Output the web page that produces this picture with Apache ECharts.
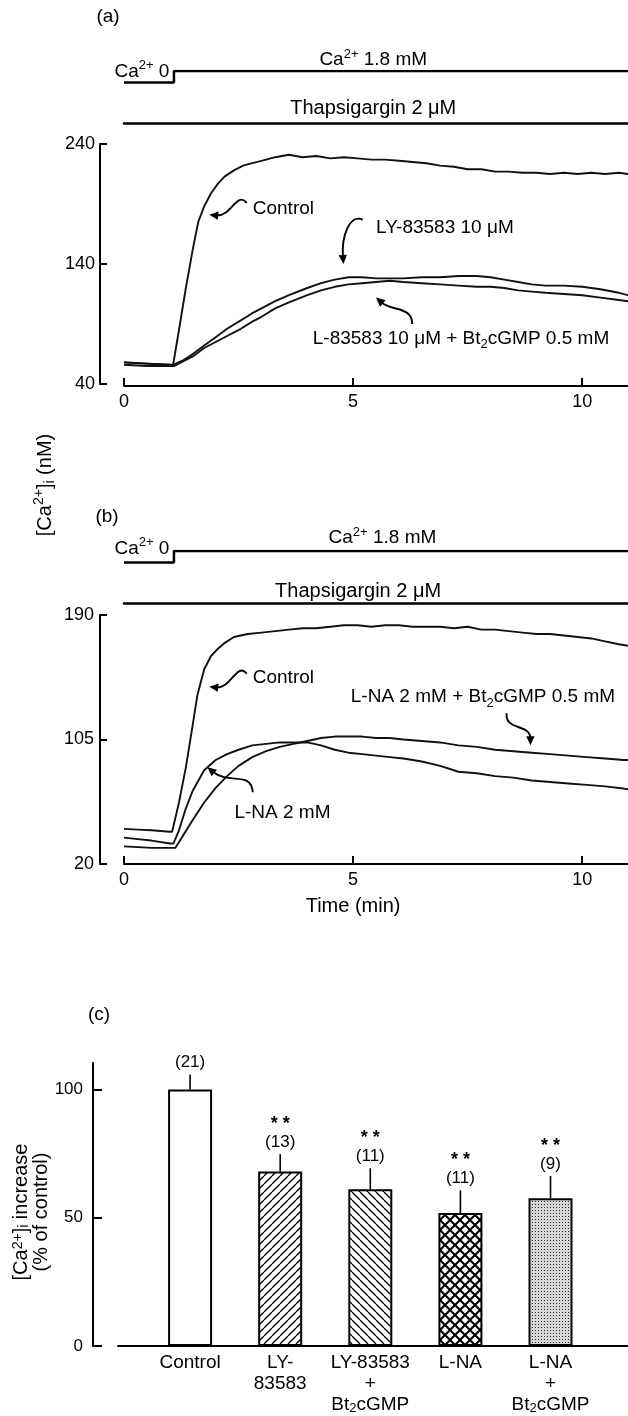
<!DOCTYPE html>
<html><head><meta charset="utf-8">
<script src="https://cdn.jsdelivr.net/npm/echarts@6/dist/echarts.min.js"></script>
<style>html,body{margin:0;padding:0;background:#fff}#c{width:628px;height:1416px}</style>
</head><body><div id="c"></div>
<script>
const FONT = '"Liberation Sans", Arial, Helvetica, sans-serif';

// ---------- data ----------
const timeTicks = [0, 5, 10];
const yTicksA = [40, 140, 240];
const yTicksB = [20, 105, 190];
const yTicksC = [0, 50, 100];
const caStepTime = 1.09;               // min, Ca2+ 0 -> 1.8 mM
const caProtocol = [[0, 0], [caStepTime, 0], [caStepTime, 1.8], [11, 1.8]]; // mM

const aControl = [[0,58],[0.25,57.5],[0.5,57],[0.75,56.5],[1.0,56],[1.07,55.5],[1.2,85],[1.35,120],[1.5,152],[1.62,175],[1.75,188],[1.9,199],[2.05,207],[2.2,213],[2.4,218],[2.6,222],[2.8,224],[3.0,226],[3.3,229],[3.6,231],[3.9,229],[4.2,230],[4.5,228],[4.8,229],[5.1,228],[5.4,227],[5.7,227],[6.0,226],[6.3,225],[6.6,224],[6.9,222],[7.2,221],[7.5,219],[7.8,219],[8.1,217],[8.4,217],[8.7,216],[9.0,216],[9.3,215],[9.6,216],[9.9,215],[10.2,216],[10.5,215],[10.8,216],[11.0,215]];
const aLY = [[0,58],[0.5,57],[1.0,56],[1.07,56],[1.3,60],[1.5,65],[1.75,72],[2.0,79],[2.25,86],[2.55,93],[2.8,99],[3.0,103],[3.3,109],[3.6,114],[4.0,120],[4.3,124],[4.6,127],[4.9,129],[5.2,129],[5.5,128],[5.8,128],[6.1,128],[6.5,129],[6.9,129],[7.3,130],[7.7,130],[8.0,129],[8.3,127],[8.6,125],[8.9,123],[9.2,122],[9.6,122],[10.0,121],[10.4,119],[10.8,116],[11.0,114]];
const aLYBt = [[0,56],[0.5,55],[1.0,55],[1.1,55],[1.3,59],[1.5,63],[1.75,70],[2.0,75],[2.25,80],[2.55,86],[2.8,92],[3.0,96],[3.3,103],[3.6,108],[4.0,114],[4.3,118],[4.6,121],[4.9,123],[5.2,124],[5.5,125],[5.8,126],[6.1,125],[6.5,124],[6.9,123],[7.3,122],[7.7,121],[8.0,121],[8.3,120],[8.6,118],[8.9,117],[9.2,116],[9.6,115],[10.0,114],[10.4,112],[10.8,110],[11.0,109]];

const bControl = [[0,44],[0.3,43.5],[0.6,43],[1.0,42],[1.05,42],[1.2,62],[1.35,86],[1.5,115],[1.6,135],[1.75,153],[1.9,162],[2.05,167],[2.2,171],[2.4,175],[2.7,177],[3.0,178],[3.3,179],[3.6,180],[3.9,181],[4.2,181],[4.5,182],[4.8,183],[5.1,183],[5.4,182],[5.7,183],[6.0,183],[6.3,182],[6.6,182],[6.9,182],[7.2,181],[7.5,182],[7.8,180],[8.1,180],[8.4,179],[8.7,178],[9.0,177],[9.3,177],[9.6,176],[9.9,175],[10.2,174],[10.5,172],[10.8,170],[11.0,169]];
const bLNA = [[0,38],[0.3,37],[0.6,36],[1.0,34],[1.08,34],[1.2,43],[1.35,58],[1.5,70],[1.75,84],[2.0,91],[2.25,95],[2.5,98],[2.8,101],[3.1,102],[3.4,103],[3.7,103],[4.0,103],[4.3,101],[4.6,98],[4.9,96],[5.2,95],[5.5,94],[5.8,93],[6.1,92],[6.5,90],[6.9,87],[7.3,83],[7.7,82],[8.1,80],[8.5,79],[8.9,77],[9.3,76],[9.7,75],[10.1,74],[10.5,73],[10.9,71.5],[11.0,71]];
const bLNABt = [[0,32],[0.3,31.5],[0.6,31],[1.0,31],[1.12,31],[1.3,40],[1.5,50],[1.75,62],[2.0,72],[2.25,80],[2.5,87],[2.8,93],[3.1,97],[3.4,100],[3.7,102],[4.0,104],[4.3,106],[4.6,107],[4.9,107],[5.2,107],[5.5,106],[5.8,106],[6.1,105],[6.5,104],[6.9,103],[7.3,101],[7.7,100],[8.1,98],[8.5,97],[8.9,96],[9.3,95],[9.7,94],[10.1,93],[10.5,92],[10.9,91],[11.0,91]];

const barLabels = ['{t|Control}', '{t|LY-}\n{t|83583}', '{t|LY-83583}\n{t|+}\n{t|Bt}{s|2}{t|cGMP}', '{t|L-NA}', '{t|L-NA}\n{t|+}\n{t|Bt}{s|2}{t|cGMP}'];
const barMeans = [100, 68, 61.1, 51.8, 57.6];
const barErrors = [5.8, 6.7, 8.2, 8.9, 8.7];
const barN = [21, 13, 11, 11, 9];
const barSig = ['', '**', '**', '**', '**'];

// ---------- styles ----------
function hatch(dir, size, lw, bg) {
  const c = document.createElement('canvas'); c.width = size; c.height = size;
  const g = c.getContext('2d');
  g.fillStyle = bg || '#fff'; g.fillRect(0, 0, size, size);
  g.strokeStyle = '#000'; g.lineWidth = lw;
  const seg = (x1, y1, x2, y2) => { g.beginPath(); g.moveTo(x1, y1); g.lineTo(x2, y2); g.stroke(); };
  for (let k = -1; k <= 1; k++) {
    if (dir === '/' || dir === 'x') seg(k * size, size, k * size + size, 0);
    if (dir === '\\' || dir === 'x') seg(k * size, 0, k * size + size, size);
  }
  return c;
}
function stipple() {
  const c = document.createElement('canvas'); c.width = 3; c.height = 3;
  const g = c.getContext('2d');
  g.fillStyle = '#d6d6d6'; g.fillRect(0, 0, 3, 3);
  g.fillStyle = '#2a2a2a'; g.fillRect(1, 1, 1, 1);
  return c;
}
const barFills = [
  '#ffffff',
  { image: hatch('/', 8, 1.3), repeat: 'repeat' },
  { image: hatch('\\', 8, 1.3), repeat: 'repeat' },
  { image: hatch('x', 10, 2), repeat: 'repeat' },
  { image: stipple(), repeat: 'repeat' }
];

function rich(size, lh) {
  const s = Math.round(size * 0.68);
  const base = { fontFamily: FONT, fill: '#000', color: '#000' };
  return {
    n: Object.assign({ fontSize: size, lineHeight: lh, verticalAlign: 'middle' }, base),
    t: Object.assign({ fontSize: size, lineHeight: lh, verticalAlign: 'middle' }, base),
    big: Object.assign({ fontSize: size + 1, lineHeight: lh, verticalAlign: 'middle' }, base),
    sup: Object.assign({ fontSize: s, lineHeight: s, verticalAlign: 'top' }, base),
    s: Object.assign({ fontSize: s, lineHeight: s, verticalAlign: 'bottom' }, base),
    sub: Object.assign({ fontSize: s, lineHeight: s, verticalAlign: 'bottom' }, base)
  };
}
const BLK = '#000';
function timeAxis(gridIndex, offset) {
  return {
    type: 'value', gridIndex, min: 0, max: 11, offset,
    axisLine: { show: true, onZero: false, lineStyle: { color: BLK, width: 2 } },
    axisTick: { show: true, inside: true, length: 8, lineStyle: { color: BLK, width: 2 }, customValues: timeTicks },
    axisLabel: { show: true, customValues: timeTicks, margin: 7, color: BLK, fontSize: 18, fontFamily: FONT },
    splitLine: { show: false }
  };
}
function valAxis(gridIndex, min, max, ticks, offset, tickLen, margin, fs) {
  return {
    type: 'value', gridIndex, min, max, offset,
    axisLine: { show: true, onZero: false, lineStyle: { color: BLK, width: 2 } },
    axisTick: { show: true, inside: true, length: tickLen, lineStyle: { color: BLK, width: 2 }, customValues: ticks },
    axisLabel: { show: true, customValues: ticks, margin, color: BLK, fontSize: fs, fontFamily: FONT },
    splitLine: { show: false }
  };
}
function protoX(gridIndex) {
  return { type: 'value', gridIndex, min: 0, max: 11,
    axisLine: { show: true, onZero: false, lineStyle: { color: BLK, width: 2.5 } },
    axisTick: { show: false }, axisLabel: { show: false }, splitLine: { show: false } };
}
function protoY(gridIndex) {
  return { type: 'value', gridIndex, min: -6.3, max: 1.8, show: false, splitLine: { show: false } };
}
function trace(data, x, y) {
  return { type: 'line', xAxisIndex: x, yAxisIndex: y, data, showSymbol: false, symbol: 'none',
    lineStyle: { color: '#111', width: 1.9 }, clip: true, silent: true };
}

const chart = echarts.init(document.getElementById('c'), null, { renderer: 'canvas' });
chart.setOption({
  animation: false,
  backgroundColor: '#fff',
  grid: [
    { left: 124, right: 0, top: 71, height: 52 },
    { left: 124, right: 0, top: 144, height: 240 },
    { left: 124, right: 0, top: 551, height: 52 },
    { left: 124, right: 0, top: 615, height: 249 },
    { left: 118, right: 0, top: 1063, height: 283 }
  ],
  xAxis: [
    protoX(0),
    timeAxis(1, 2),
    protoX(2),
    timeAxis(3, 0),
    { type: 'value', gridIndex: 4, min: -0.8, max: 4.86,
      axisLine: { show: true, onZero: false, lineStyle: { color: BLK, width: 2 } },
      axisTick: { show: false },
      axisLabel: { show: true, customValues: [0, 1, 2, 3, 4], margin: 6, verticalAlign: 'top',
        formatter: v => barLabels[Math.round(v)] || '', rich: rich(19, 21) },
      splitLine: { show: false } }
  ],
  yAxis: [
    protoY(0),
    valAxis(1, 40, 240, yTicksA, 24, 7, 5, 18),
    protoY(2),
    valAxis(3, 20, 190, yTicksB, 24, 7, 6, 18),
    valAxis(4, 0, 110.3, yTicksC, 25, 9, 10, 17)
  ],
  series: [
    { type: 'line', xAxisIndex: 0, yAxisIndex: 0, data: caProtocol, symbol: 'none', lineStyle: { color: BLK, width: 2.5 }, silent: true },
    trace(aControl, 1, 1), trace(aLY, 1, 1), trace(aLYBt, 1, 1),
    { type: 'line', xAxisIndex: 2, yAxisIndex: 2, data: caProtocol, symbol: 'none', lineStyle: { color: BLK, width: 2.5 }, silent: true },
    trace(bControl, 3, 3), trace(bLNA, 3, 3), trace(bLNABt, 3, 3),
    { type: 'bar', xAxisIndex: 4, yAxisIndex: 4, barWidth: 44,
      data: barMeans.map((m, i) => ({ value: [i, m], itemStyle: { color: barFills[i], borderColor: BLK, borderWidth: 2 } })),
      silent: true, z: 2 },
    { type: 'custom', xAxisIndex: 4, yAxisIndex: 4, z: 3, silent: true,
      data: barMeans.map((m, i) => [i, m, m + barErrors[i]]),
      renderItem(params, api) {
        const i = params.dataIndex;
        const p0 = api.coord([api.value(0), api.value(1)]);
        const p1 = api.coord([api.value(0), api.value(2)]);
        const kids = [
          { type: 'line', shape: { x1: p0[0], y1: p0[1], x2: p1[0], y2: p1[1] }, style: { stroke: BLK, lineWidth: 1.6 } },
          { type: 'text', style: { text: '(' + barN[i] + ')', x: p1[0], y: p1[1] - 12, align: 'center', verticalAlign: 'middle', font: '17px ' + FONT, fill: BLK } }
        ];
        if (barSig[i]) kids.push({ type: 'text', style: { text: '* *', x: p1[0], y: p1[1] - 30, align: 'center', verticalAlign: 'middle', font: 'bold 18px ' + FONT, fill: BLK } });
        return { type: 'group', children: kids };
      } }
  ]
});

// ---------- annotations ----------
const RT = rich(19, 25);
function px(g, pt) { return chart.convertToPixel({ gridIndex: g }, pt); }
function label(g, pt, text, align, dy) {
  const p = px(g, pt);
  return { type: 'text', x: p[0], y: p[1] + (dy || 0), style: { text, rich: RT, align: align || 'left', verticalAlign: 'middle', fill: BLK, font: '19px ' + FONT }, z: 10 };
}
function arrow(g, from, to, c1, c2) {
  const a = px(g, from), b = px(g, to);
  const k1 = [a[0] + c1[0], a[1] + c1[1]], k2 = [b[0] + c2[0], b[1] + c2[1]];
  const dx = b[0] - k2[0], dy = b[1] - k2[1], L = Math.hypot(dx, dy) || 1;
  const ux = dx / L, uy = dy / L, hl = 9, hw = 4.2;
  const bx = b[0] - ux * hl, by = b[1] - uy * hl;
  return [
    { type: 'bezierCurve', shape: { x1: a[0], y1: a[1], cpx1: k1[0], cpy1: k1[1], cpx2: k2[0], cpy2: k2[1], x2: bx + ux * 2, y2: by + uy * 2 }, style: { stroke: BLK, lineWidth: 1.9, fill: null }, z: 10 },
    { type: 'polygon', shape: { points: [[b[0], b[1]], [bx - uy * hw, by + ux * hw], [bx + uy * hw, by - ux * hw]] }, style: { fill: BLK }, z: 10 }
  ];
}
function fixedText(x, y, text, rot, size, lh) {
  return { type: 'text', x, y, rotation: rot || 0, style: { text, rich: rich(size || 19, lh || 25), align: 'center', verticalAlign: 'middle', fill: BLK, font: (size || 19) + 'px ' + FONT }, z: 10 };
}

const g = [];
// panel labels
g.push(fixedText(108, 17, '{n|(a)}'), fixedText(107, 517, '{n|(b)}'), fixedText(99, 1015, '{n|(c)}'));
// protocol labels (a)
g.push(label(0, [5.44, 1.8], '{n|Ca}{sup|2+}{n| 1.8 mM}', 'center', -11));
g.push(label(0, [5.44, -6.3], '{big|Thapsigargin 2 μM}', 'center', -15));
g.push(label(0, [0.99, 0], '{n|Ca}{sup|2+}{n| 0}', 'right', -11));
// protocol labels (b)
g.push(label(2, [5.64, 1.8], '{n|Ca}{sup|2+}{n| 1.8 mM}', 'center', -13));
g.push(label(2, [5.11, -6.3], '{big|Thapsigargin 2 μM}', 'center', -12));
g.push(label(2, [0.99, 0], '{n|Ca}{sup|2+}{n| 0}', 'right', -14));
// trace labels (a)
g.push(label(1, [2.81, 186], '{n|Control}'));
g.push(...arrow(1, [2.68, 191], [1.86, 181], [-10, -12], [22, 2]));
g.push(label(1, [5.5, 170], '{n|LY-83583 10 μM}'));
g.push(...arrow(1, [5.21, 177], [4.79, 140], [-14, -6], [-2, -26]));
g.push(label(1, [4.12, 78], '{n|L-83583 10 μM + Bt}{sub|2}{n|cGMP 0.5 mM}'));
g.push(...arrow(1, [6.29, 90], [5.5, 112], [0, -18], [16, 14]));
// trace labels (b)
g.push(label(3, [2.81, 147], '{n|Control}'));
g.push(...arrow(3, [2.68, 150], [1.86, 141], [-10, -12], [22, 2]));
g.push(label(3, [4.95, 134], '{n|L-NA 2 mM + Bt}{sub|2}{n|cGMP 0.5 mM}'));
g.push(...arrow(3, [8.35, 123], [8.87, 101], [-2, 18], [0, -22]));
g.push(label(3, [2.41, 55], '{n|L-NA 2 mM}'));
g.push(...arrow(3, [2.81, 69], [1.82, 86], [-2, -22], [22, 18]));
// axis titles
const t5 = px(3, [5, 20]);
g.push(fixedText(t5[0], 906, '{n|Time (min)}', 0, 20));
g.push(fixedText(45, 485, '{n|[Ca}{sup|2+}{n|]}{sub|i}{n| (nM)}', Math.PI / 2, 20));
g.push(fixedText(31, 1212, '{n|[Ca}{sup|2+}{n|]}{sub|i}{n| increase}\n{n|(% of control)}', Math.PI / 2, 20, 20));

chart.setOption({ graphic: g });
</script>
</body></html>
